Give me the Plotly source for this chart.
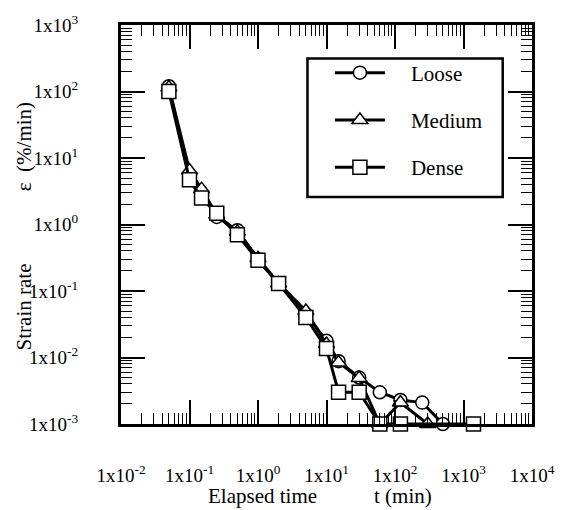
import plotly.graph_objects as go

# Data (elapsed time in min, strain rate in %/min)
loose_t = [0.05, 0.1, 0.15, 0.25, 0.5, 1.0, 2.0, 5.0, 10.0, 15.0, 30.0, 60.0, 120.0, 250.0, 500.0]
loose_r = [120, 5.0, 3.0, 1.3, 0.82, 0.30, 0.13, 0.045, 0.0178, 0.0088, 0.0050, 0.0030, 0.0023, 0.0021, 0.0010]

medium_t = [0.05, 0.1, 0.15, 0.25, 0.5, 1.0, 2.0, 5.0, 10.0, 15.0, 30.0, 60.0, 120.0, 300.0]
medium_r = [115, 6.5, 3.4, 1.4, 0.78, 0.31, 0.13, 0.050, 0.016, 0.0084, 0.0049, 0.0010, 0.0021, 0.0010]

dense_t = [0.05, 0.1, 0.15, 0.25, 0.5, 1.0, 2.0, 5.0, 10.0, 15.0, 30.0, 60.0, 120.0, 1400.0]
dense_r = [100, 4.7, 2.5, 1.47, 0.70, 0.29, 0.13, 0.040, 0.0136, 0.0030, 0.0030, 0.0010, 0.0010, 0.0010]

series = [
    ("Loose", loose_t, loose_r, "circle", 13),
    ("Medium", medium_t, medium_r, "triangle-up", 14),
    ("Dense", dense_t, dense_r, "square", 14),
]

x_tickvals = [1e-2, 1e-1, 1e0, 1e1, 1e2, 1e3, 1e4]
x_ticktext = ["1x10<sup>-2</sup>", "1x10<sup>-1</sup>", "1x10<sup>0</sup>", "1x10<sup>1</sup>",
              "1x10<sup>2</sup>", "1x10<sup>3</sup>", "1x10<sup>4</sup>"]
y_tickvals = [1e-3, 1e-2, 1e-1, 1e0, 1e1, 1e2, 1e3]
y_ticktext = ["1x10<sup>-3</sup>", "1x10<sup>-2</sup>", "1x10<sup>-1</sup>", "1x10<sup>0</sup>",
              "1x10<sup>1</sup>", "1x10<sup>2</sup>", "1x10<sup>3</sup>"]

FONT = "'Liberation Serif', 'DejaVu Serif', serif"

# plot area in pixels (for placing decorations)
L, T, W, H = 121, 18, 421, 406
def px(xp):
    return (xp - L) / W
def py(yp):
    return 1 - (yp - T) / H

fig = go.Figure()
for i, (name, t, r, sym, sz) in enumerate(series):
    fig.add_trace(go.Scatter(
        x=t, y=r, name="\u00a0\u00a0\u00a0\u00a0" + name, mode="lines+markers",
        line=dict(color="black", width=3),
        marker=dict(symbol=sym, size=sz, color="white", line=dict(color="black", width=1.5)),
        legendgroup=name,
        cliponaxis=False,
    ))

axis_common = dict(
    type="log", showgrid=False, zeroline=False,
    showline=True, linecolor="black", linewidth=3, mirror="ticks",
    ticks="inside", ticklen=24, tickwidth=1.5, tickcolor="black",
    tickmode="array",
    minor=dict(ticks="inside", ticklen=11, tickwidth=1.2, tickcolor="black", dtick="D1", showgrid=False),
    tickfont=dict(family=FONT, size=19, color="black"),
)

fig.update_xaxes(range=[-2, 4], tickvals=x_tickvals, ticktext=x_ticktext, ticklabelstandoff=32, **axis_common)
fig.update_yaxes(range=[-3, 3], tickvals=y_tickvals, ticktext=y_ticktext, ticklabelstandoff=36, **axis_common)

for text, xc in [("Elapsed time", 266), ("t (min)", 410)]:
    fig.add_annotation(text=text, xref="paper", yref="paper", x=px(xc), y=py(497),
                       showarrow=False, font=dict(family=FONT, size=21, color="black"),
                       xanchor="center", yanchor="middle")
for text, yc in [("Strain rate", 305), ("ε  (%/min)", 142)]:
    fig.add_annotation(text=text, xref="paper", yref="paper", x=px(22), y=py(yc), textangle=-90,
                       showarrow=False, font=dict(family=FONT, size=21, color="black"),
                       xanchor="center", yanchor="middle")

# legend frame
fig.add_shape(type="rect", xref="paper", yref="paper",
              x0=px(312), x1=px(512), y0=py(193), y1=py(52),
              line=dict(color="black", width=2.5), fillcolor="white", layer="below")

fig.update_layout(
    width=567, height=510,
    margin=dict(l=121, r=25, t=18, b=86),
    paper_bgcolor="white", plot_bgcolor="white",
    font=dict(family=FONT, size=19, color="black"),
    showlegend=True,
    legend=dict(
        x=px(335), y=py(46), xanchor="left", yanchor="top",
        bgcolor="rgba(0,0,0,0)", borderwidth=0,
        font=dict(family=FONT, size=21, color="black"),
        traceorder="grouped", tracegroupgap=17, itemwidth=50,
    ),
)

fig.write_html("out.html")
